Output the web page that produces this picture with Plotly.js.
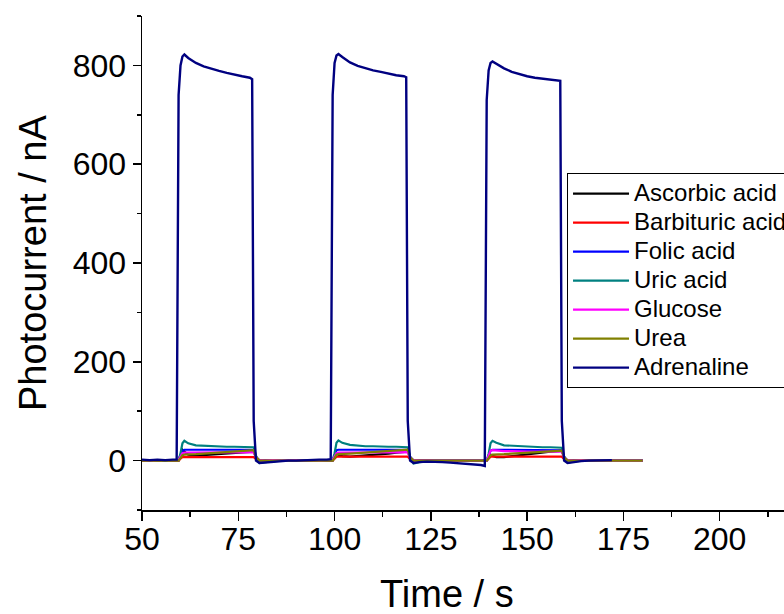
<!DOCTYPE html>
<html>
<head>
<meta charset="utf-8">
<script src="https://cdn.plot.ly/plotly-3.0.1.min.js"></script>
<style>
html,body{margin:0;padding:0;overflow:hidden;background:#fff;}
#chart{width:830px;height:614px;}
</style>
</head>
<body>
<div id="chart"></div>
<script>
// Time (s)
const time = [50,52,54,56,58,59, 59.5,60,60.5,61,62, 64,66,68,70,72,74,76,78, 78.6,79,79.6,80.5,
  82,84,86,88,90,92,94,96,98,99, 99.5,100,100.5,101,102, 104,106,108,110,112,114,116,118, 118.6,119,119.6,120.5,
  122,124,126,128,130,132,134,136,138,139, 139.5,140,140.5,141,142, 144,146,148,150,152,154,156,158, 158.6,159,159.6,160.5,
  162,164,166,168,170,172,174,176,178,180];

const seriesNames = ["Ascorbic acid","Barbituric acid","Folic acid","Uric acid","Glucose","Urea","Adrenaline"];
const seriesColors = ["#000000","#FF0000","#0000FF","#008080","#FF00FF","#808000","#000080"];

const ascorbic = [0,1,0,0,1,0, 0,12,22,18,12, 10,11,12,13,14,15,16,17, 18,18,6,0,
  0,0,0,1,0,0,1,0,0,0, 0,8,15,12,9, 8,9,10,11,13,14,16,17, 18,18,6,0,
  0,0,0,0,0,0,0,0,0,0, 0,6,12,10,7, 7,9,10,12,14,16,18,19, 20,20,6,0,
  0,0,0,0,0,0,0,0,0,0];
const barbituric = [0,0,1,0,0,0, 0,4,7,7,7, 7,7,7,7,7,7,7,7, 7,7,3,0,
  0,0,0,0,0,0,0,0,0,0, 0,4,8,8,8, 8,8,8,8,8,8,8,8, 8,8,3,0,
  0,0,0,0,0,0,0,0,0,0, 0,4,8,8,8, 8,8,8,8,8,8,8,8, 8,8,3,0,
  0,0,0,0,0,0,0,0,0,0];
const folic = [1,1,0,1,1,1, 1,10,20,22,22, 22,22,22,22,22,22,22,22, 22,22,8,0,
  0,0,1,0,0,1,0,0,1,1, 1,10,21,22,22, 22,22,22,22,22,22,22,23, 23,22,8,0,
  0,0,0,0,0,0,0,0,0,0, 0,10,20,22,22, 22,22,22,22,22,22,22,22, 22,21,8,0,
  0,0,0,0,0,0,0,0,0,0];
const uric = [1,0,1,0,1,1, 1,15,35,40,35, 31,30,29,29,28,28,28,28, 28,27,10,-5,
  -3,-1,0,0,1,0,1,0,1,1, 1,15,36,41,36, 32,30,29,29,28,28,28,28, 28,27,8,-6,
  -3,-1,0,0,0,0,0,0,0,0, 0,14,35,40,36, 31,30,29,28,28,27,27,27, 27,26,8,-4,
  -2,0,0,0,0,0,0,0,0,0];
const glucose = [1,0,1,1,0,1, 1,8,15,16,16, 16,16,16,16,17,17,17,17, 17,17,6,1,
  0,1,0,1,1,0,1,0,1,1, 1,8,15,16,16, 16,16,16,16,17,17,17,17, 17,17,6,1,
  0,0,-1,0,0,-1,0,-1,0,0, 0,10,20,21,20, 19,19,18,18,18,18,18,18, 18,18,6,1,
  0,1,0,0,1,0,0,0,0,0];
const urea = [0,0,0,0,0,0, 0,5,11,12,12, 13,14,15,16,17,18,19,20, 21,21,7,0,
  0,0,0,0,0,0,0,0,0,0, 0,5,12,13,13, 14,15,16,17,18,19,20,21, 22,22,7,0,
  0,0,0,0,0,0,0,0,0,0, 0,5,11,12,12, 13,14,15,16,17,18,19,20, 20,20,7,0,
  0,0,0,0,0,0,0,0,0,0];
const adrenaline = [2,1,2,1,2,2, 740,800,818,822,815, 805,798,793,789,785,781,778,775, 772,80,0,-5,
  -4,-2,-1,0,0,1,1,2,2,3, 740,805,820,823,817, 806,799,794,790,787,783,780,778, 776,80,0,-5,
  -3,-2,-2,-3,-4,-5,-6,-8,-9,-11, 730,790,805,808,803, 794,787,782,778,775,773,771,770, 769,80,0,-5,
  -3,-1,0,0,0,1,null,null,null,null];

const allSeries = [ascorbic, barbituric, folic, uric, glucose, urea, adrenaline];

const traces = allSeries.map((vals, i) => ({
  type: 'scatter', mode: 'lines',
  x: time, y: vals,
  name: '<span style="font-size:24px">' + seriesNames[i] + '</span>',
  line: {color: seriesColors[i], width: i === 6 ? 2.4 : 2.2},
  connectgaps: false
}));

const xRange = [50, 225];
const layout = {
  width: 830, height: 614,
  margin: {l: 142, r: 14, t: 16, b: 104},
  paper_bgcolor: '#fff', plot_bgcolor: '#fff',
  font: {family: 'Liberation Sans, Arial, sans-serif', color: '#000'},
  showlegend: true,
  legend: {
    x: 0.6306, y: 0.682, xanchor: 'left', yanchor: 'top',
    bgcolor: '#fff', bordercolor: '#000', borderwidth: 1,
    font: {size: 20, color: '#000'},
    itemwidth: 56, tracegroupgap: 0
  },
  xaxis: {
    range: xRange, showgrid: false, zeroline: false,
    showline: true, linecolor: '#000', linewidth: 1.5,
    ticks: 'outside', ticklen: 9, tickwidth: 1.5, tickcolor: '#000',
    tick0: 50, dtick: 25,
    minor: {ticks: 'outside', ticklen: 5, tickwidth: 1.5, tickcolor: '#000', dtick: 12.5},
    tickfont: {size: 32},
    ticklabelstandoff: -9,
    mirror: false
  },
  xaxis2: {
    overlaying: 'x', side: 'top', anchor: 'y',
    range: xRange, showgrid: false, zeroline: false,
    showline: true, linecolor: '#000', linewidth: 1.5,
    ticks: 'inside', ticklen: 3, tickwidth: 1.2, tickcolor: '#000',
    tick0: 50, dtick: 12.5, showticklabels: false
  },
  yaxis: {
    range: [-100, 900], showgrid: false, zeroline: false,
    showline: true, linecolor: '#000', linewidth: 1.5,
    ticks: 'outside', ticklen: 8, tickwidth: 1.5, tickcolor: '#000',
    tick0: 0, dtick: 200,
    minor: {ticks: 'outside', ticklen: 4, tickwidth: 1.5, tickcolor: '#000', dtick: 100},
    tickfont: {size: 32}
  },
  annotations: [
    {text: 'Time / s', xref: 'paper', yref: 'paper', x: 0.4525, y: 0,
     xanchor: 'center', yanchor: 'middle', yshift: -84, showarrow: false,
     font: {size: 38, color: '#000'}},
    {text: 'Photocurrent / nA', xref: 'paper', yref: 'paper', x: 0, y: 0.5,
     xanchor: 'center', yanchor: 'middle', xshift: -109, textangle: -90, showarrow: false,
     font: {size: 38, color: '#000'}}
  ]
};

Plotly.newPlot('chart', traces, layout, {displayModeBar: false, staticPlot: true});
</script>
</body>
</html>
